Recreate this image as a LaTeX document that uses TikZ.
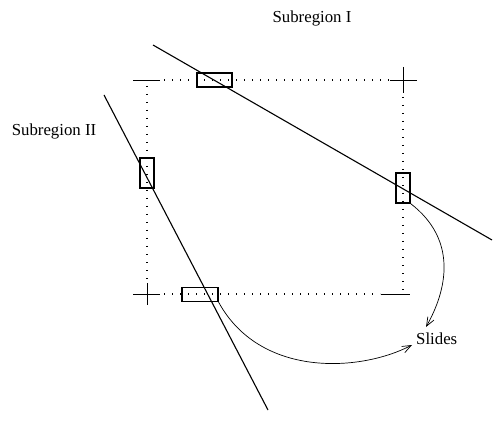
\documentclass[tikz,border=0pt]{standalone}
\usepackage{fontspec}
\setmainfont{Liberation Serif}
\usetikzlibrary{arrows.meta}
\begin{document}
\begin{tikzpicture}[x=1pt,y=-1pt,
  dotline/.style={line width=1.4pt,dash pattern=on 1.4pt off 6.6pt},
  solidline/.style={line width=1.1pt},
  tick/.style={line width=0.8pt},
  slidebox/.style={draw,line width=1.1pt,minimum width=#1,inner sep=0pt},
  label/.style={font=\fontsize{16.8}{19}\selectfont,inner sep=0pt},
  arc/.style={line width=0.7pt,-{Straight Barb[length=9pt,width=7pt]}}]
\useasboundingbox (0,0) rectangle (493,425);
% corners
\coordinate (TL) at (147,80);
\coordinate (TR) at (403,80);
\coordinate (BL) at (147,294);
\coordinate (BR) at (403,294);
% dotted rectangle
\draw[dotline] (164,80) -- (390,80);
\draw[dotline] (147,86) -- (147,283);
\draw[dotline] (403,97) -- (403,290);
\draw[dotline] (164,294) -- (380,294);
% crosses
\draw[tick] (133,80) -- (160,80);
\draw[tick] (390,80) -- (417,80) (403,67) -- (403,93);
\draw[tick] (133,294) -- (160,294) (147,283) -- (147,305);
\draw[tick] (381,294) -- (410,294);
% boundary lines
\coordinate (L1a) at (153,45);
\coordinate (L1b) at (492,240);
\coordinate (L2a) at (104,95);
\coordinate (L2b) at (268,410);
\draw[solidline] (L1a) -- (L1b);
\draw[solidline] (L2a) -- (L2b);
% boxes
\node[slidebox=35pt,minimum height=14pt] (btop) at (214.5,80) {};
\node[slidebox=14pt,minimum height=30pt] (bleft) at (147,173) {};
\node[slidebox=14pt,minimum height=30pt] (bright) at (403,188) {};
\node[slidebox=36pt,minimum height=14pt] (bbot) at (200,294.5) {};
% labels
\node[label] (s1) at (312,18) {Subregion I};
\node[label] (s2) at (54,131) {Subregion II};
\node[label,anchor=west] (sl) at (416,339) {Slides};
% arcs
\draw[arc] (bright.south east) .. controls (458,240) and (447,290) .. (426,327);
\draw[arc] (bbot.south east) .. controls (260,378) and (360,372) .. (412,345);
\end{tikzpicture}
\end{document}
